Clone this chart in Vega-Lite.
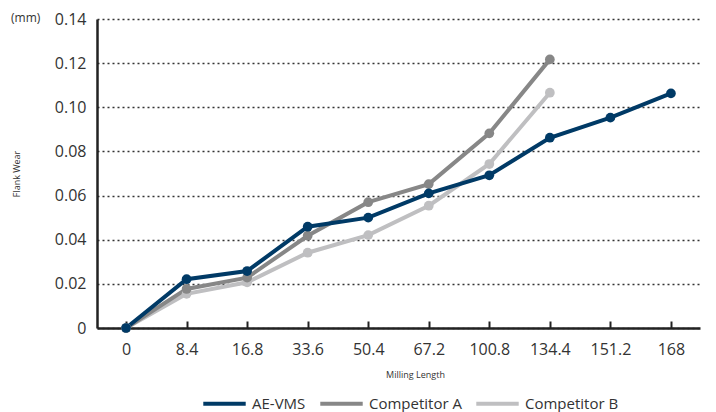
{
  "$schema": "https://vega.github.io/schema/vega-lite/v6.json",
  "autosize": {"type": "none"},
  "width": 603,
  "height": 309,
  "padding": {"left": 97, "top": 19, "right": 16, "bottom": 84},
  "background": "white",
  "title": {"text": "(mm)", "anchor": "start", "frame": "group", "fontSize": 12, "font": "Open Sans", "fontWeight": "normal", "color": "#333", "dx": -86, "dy": 14, "offset": 0},
  "config": {"view": {"stroke": null}, "font": "Open Sans"},
  "data": {"values": [
    {"len": "0", "series": "Competitor B", "wear": 0},
    {"len": "8.4", "series": "Competitor B", "wear": 0.0155},
    {"len": "16.8", "series": "Competitor B", "wear": 0.0207},
    {"len": "33.6", "series": "Competitor B", "wear": 0.0341},
    {"len": "50.4", "series": "Competitor B", "wear": 0.0421},
    {"len": "67.2", "series": "Competitor B", "wear": 0.0554},
    {"len": "100.8", "series": "Competitor B", "wear": 0.0743},
    {"len": "134.4", "series": "Competitor B", "wear": 0.1066},
    {"len": "0", "series": "Competitor A", "wear": 0},
    {"len": "8.4", "series": "Competitor A", "wear": 0.0177},
    {"len": "16.8", "series": "Competitor A", "wear": 0.0228},
    {"len": "33.6", "series": "Competitor A", "wear": 0.0418},
    {"len": "50.4", "series": "Competitor A", "wear": 0.057},
    {"len": "67.2", "series": "Competitor A", "wear": 0.0652},
    {"len": "100.8", "series": "Competitor A", "wear": 0.0882},
    {"len": "134.4", "series": "Competitor A", "wear": 0.1217},
    {"len": "0", "series": "AE-VMS", "wear": 0},
    {"len": "8.4", "series": "AE-VMS", "wear": 0.0221},
    {"len": "16.8", "series": "AE-VMS", "wear": 0.0258},
    {"len": "33.6", "series": "AE-VMS", "wear": 0.0459},
    {"len": "50.4", "series": "AE-VMS", "wear": 0.050},
    {"len": "67.2", "series": "AE-VMS", "wear": 0.061},
    {"len": "100.8", "series": "AE-VMS", "wear": 0.0692},
    {"len": "134.4", "series": "AE-VMS", "wear": 0.0862},
    {"len": "151.2", "series": "AE-VMS", "wear": 0.0953},
    {"len": "168", "series": "AE-VMS", "wear": 0.1063}
  ]},
  "encoding": {
    "x": {"field": "len", "type": "ordinal",
      "sort": ["0", "8.4", "16.8", "33.6", "50.4", "67.2", "100.8", "134.4", "151.2", "168"],
      "scale": {"type": "point", "padding": 0.48},
      "axis": {"title": "Milling Length", "titleFontSize": 9, "titleFontWeight": "normal", "titleColor": "#333", "titlePadding": 13, "titleX": 318,
        "labelAngle": 0, "labelFontSize": 16, "labelColor": "#333", "labelPadding": 20,
        "domainColor": "#222", "domainWidth": 2.5, "tickColor": "#222", "tickWidth": 2, "tickSize": -7, "grid": false}},
    "y": {"field": "wear", "type": "quantitative",
      "scale": {"domain": [0, 0.14], "nice": false},
      "axis": {"title": "Flank Wear", "titleFontSize": 9, "titleFontWeight": "normal", "titleColor": "#333", "titlePadding": 33,
        "values": [0, 0.02, 0.04, 0.06, 0.08, 0.1, 0.12, 0.14],
        "labelExpr": "datum.value == 0 ? '0' : format(datum.value, '.2f')",
        "labelFontSize": 16, "labelColor": "#333", "labelPadding": 11,
        "ticks": false, "domainColor": "#222", "domainWidth": 2.5,
        "grid": true, "gridColor": "#333", "gridDash": [2, 3], "gridWidth": 1.3}},
    "color": {"field": "series", "type": "nominal",
      "scale": {"domain": ["AE-VMS", "Competitor A", "Competitor B"], "range": ["#003a66", "#878787", "#bfbfc1"]},
      "legend": {"title": null, "orient": "none", "direction": "horizontal", "legendX": 104, "legendY": 361,
        "symbolType": "stroke", "symbolSize": 1800, "symbolStrokeWidth": 4, "labelFontSize": 15, "labelColor": "#333",
        "columnPadding": 6, "labelOffset": 4}}
  },
  "layer": [
    {"mark": {"type": "line", "strokeWidth": 4}, "encoding": {"detail": {"field": "series"}}},
    {"mark": {"type": "point", "filled": true, "size": 95, "opacity": 1}}
  ]
}
